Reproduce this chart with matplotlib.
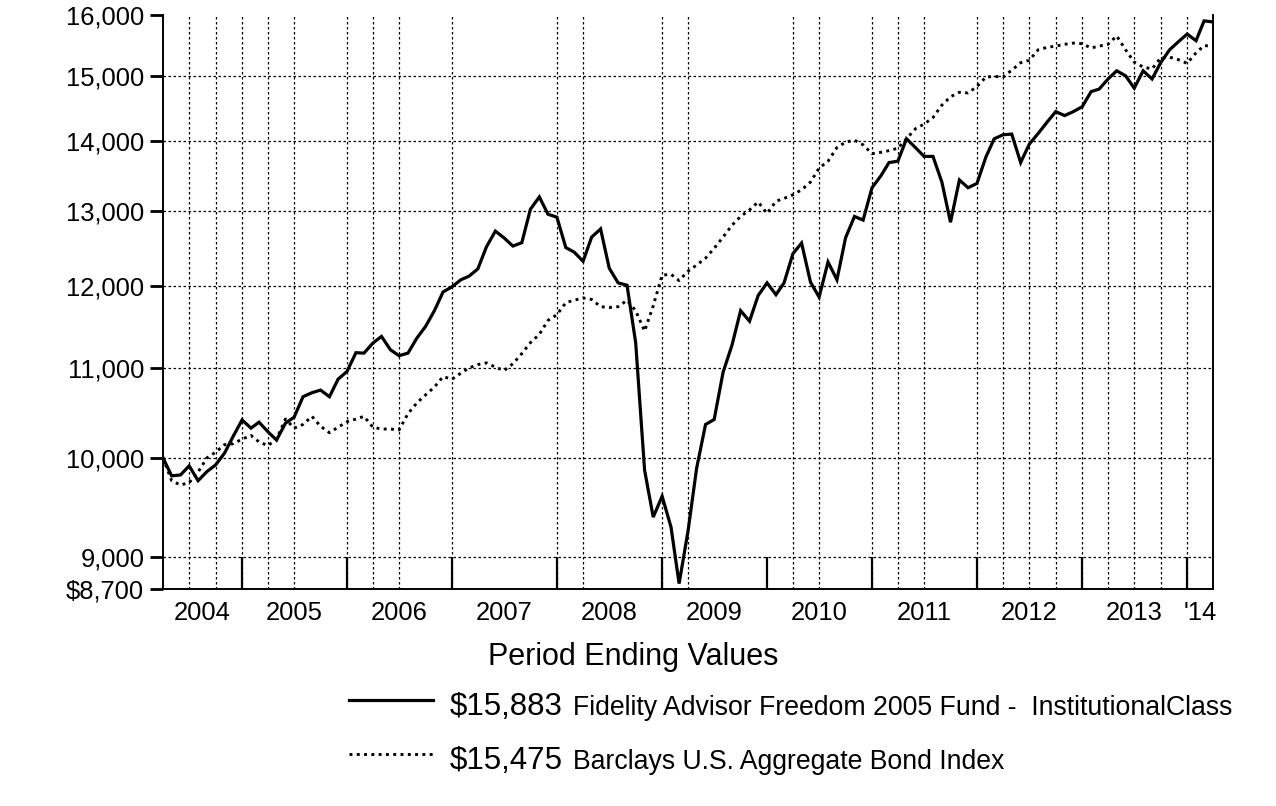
import matplotlib
matplotlib.use("Agg")
import matplotlib.pyplot as plt
import matplotlib.dates as mdates
import pandas as pd
from matplotlib.ticker import FixedLocator, FixedFormatter, NullFormatter

plt.rcParams["font.family"] = ["Liberation Sans", "DejaVu Sans"]

# monthly period ending values, Mar 2004 .. Mar 2014
months = pd.date_range("2004-04-01", periods=121, freq="MS")

fund = [
    10000, 9810, 9820, 9915, 9760, 9855, 9925, 10050, 10230, 10410,
    10320, 10385, 10280, 10190, 10375, 10440, 10670, 10715, 10745, 10670,
    10870, 10960, 11180, 11175, 11295, 11375, 11215, 11145, 11175, 11355,
    11495, 11690, 11925, 11990, 12080, 12125, 12220, 12510, 12720, 12630,
    12520, 12565, 13020, 13190, 12950, 12910, 12500, 12440, 12320, 12640,
    12750, 12230, 12040, 12010, 11300, 9870, 9390, 9600, 9290, 8750,
    9250, 9890, 10360, 10415, 10950, 11270, 11690, 11560, 11880, 12040,
    11890, 12040, 12420, 12560, 12050, 11860, 12310, 12080, 12630, 12920,
    12870, 13320, 13490, 13680, 13700, 14030, 13900, 13770, 13770, 13400,
    12840, 13430, 13320, 13380, 13760, 14030, 14090, 14100, 13680, 13950,
    14110, 14280, 14440, 14380, 14440, 14515, 14750, 14790, 14950, 15080,
    15000, 14805, 15080, 14950, 15210, 15420, 15550, 15680, 15570, 15900,
    15883,
]

bond = [
    10000, 9760, 9715, 9740, 9850, 10000, 10060, 10140, 10150, 10200,
    10240, 10170, 10130, 10200, 10420, 10320, 10360, 10450, 10340, 10270,
    10330, 10390, 10420, 10450, 10330, 10310, 10310, 10300, 10480, 10600,
    10690, 10780, 10900, 10870, 10940, 11000, 11040, 11060, 11010, 10970,
    11050, 11170, 11300, 11400, 11570, 11640, 11790, 11820, 11850, 11830,
    11740, 11730, 11740, 11820, 11690, 11440, 11750, 12140, 12150, 12070,
    12190, 12270, 12360, 12490, 12640, 12800, 12920, 13010, 13120, 12960,
    13130, 13170, 13220, 13290, 13400, 13600, 13700, 13900, 13980, 14010,
    13940, 13810, 13830, 13855, 13890, 14030, 14180, 14250, 14350, 14540,
    14670, 14740, 14730, 14830, 14980, 14990, 14980, 15090, 15210, 15250,
    15420, 15460, 15480, 15510, 15530, 15520, 15450, 15480, 15510, 15650,
    15420, 15220, 15140, 15110, 15290, 15300, 15260, 15200, 15370, 15490,
    15475,
]

y_ticks = [8700, 9000, 10000, 11000, 12000, 13000, 14000, 15000, 16000]
y_labels = ["$8,700", "9,000", "10,000", "11,000", "12,000", "13,000", "14,000", "15,000", "16,000"]
year_bounds = ["2005-01-01", "2006-01-01", "2007-01-01", "2008-01-01", "2009-01-01",
               "2010-01-01", "2011-01-01", "2012-01-01", "2013-01-01", "2014-01-01"]
year_labels = ["2004", "2005", "2006", "2007", "2008", "2009", "2010", "2011", "2012", "2013", "'14"]
# quarter-end grid lines as drawn in the source
grid_dates = ["2004-07-01", "2004-10-01", "2005-01-01", "2005-04-01", "2005-07-01",
              "2006-01-01", "2006-04-01", "2006-07-01", "2007-01-01", "2008-01-01",
              "2008-04-01", "2009-01-01", "2009-04-01", "2010-04-01", "2010-07-01",
              "2011-01-01", "2011-04-01", "2011-07-01", "2012-01-01", "2012-04-01",
              "2012-07-01", "2012-10-01", "2013-01-01", "2013-04-01", "2013-07-01",
              "2013-10-01", "2014-01-01"]

fund_value = "$15,883"
fund_name = "Fidelity Advisor Freedom 2005 Fund -  InstitutionalClass"
bond_value = "$15,475"
bond_name = "Barclays U.S. Aggregate Bond Index"

fig = plt.figure(figsize=(12.76, 8.06), dpi=100)
ax = fig.add_axes([163 / 1276, 1 - 589 / 806, 1050 / 1276, 574 / 806])

x = mdates.date2num(months)
ax.plot(x, fund, color="black", linewidth=2.3, solid_joinstyle="miter", zorder=4)
ax.plot(x, bond, color="black", linewidth=2.1, linestyle=(0, (1.0, 1.5)), zorder=3)

ax.set_yscale("log")
ax.set_ylim(8700, 16000)
x0, x1 = x[0], x[-1]
ax.set_xlim(x0, x1)

ax.yaxis.set_major_locator(FixedLocator(y_ticks))
ax.yaxis.set_major_formatter(FixedFormatter(y_labels))
ax.yaxis.set_minor_locator(FixedLocator([]))
ax.yaxis.set_minor_formatter(NullFormatter())
ax.tick_params(axis="y", which="major", direction="out", length=9.5, width=2.0,
               labelsize=18.4, pad=4)

# year boundaries as long inward ticks, year names centred in between
bounds = mdates.date2num(pd.to_datetime(year_bounds))
edges = [x0] + list(bounds) + [x1]
mids = [(a + b) / 2 for a, b in zip(edges[:-1], edges[1:])]
ax.xaxis.set_major_locator(FixedLocator(bounds))
ax.xaxis.set_major_formatter(NullFormatter())
ax.xaxis.set_minor_locator(FixedLocator(mids))
ax.xaxis.set_minor_formatter(FixedFormatter(year_labels))
ax.tick_params(axis="x", which="major", direction="in", length=23, width=1.6)
ax.tick_params(axis="x", which="minor", length=0, labelsize=18.4, pad=9)

for d in mdates.date2num(pd.to_datetime(grid_dates)):
    ax.axvline(d, color="black", linewidth=0.9, linestyle=(0, (2, 2)), zorder=1)
for v in y_ticks[1:-1]:
    ax.axhline(v, color="black", linewidth=0.9, linestyle=(0, (2, 2)), zorder=1)

ax.spines["top"].set_visible(False)
for side in ("left", "bottom", "right"):
    ax.spines[side].set_linewidth(1.4)

fig.text(633 / 1276, 1 - 657 / 806, "Period Ending Values", fontsize=22,
         ha="center", va="center")

# legend rows drawn by hand: sample line, big value, smaller name
rows = [(700, fund_value, fund_name, "-"), (754, bond_value, bond_name, (0, (1.0, 1.5)))]
for y_px, value, name, style in rows:
    yf = 1 - y_px / 806
    fig.add_artist(plt.Line2D([349 / 1276, 433 / 1276], [yf, yf], color="black",
                              linewidth=2.3 if style == "-" else 2.1, linestyle=style))
    fig.text(450 / 1276, yf - 7 / 806, value, fontsize=22.5, ha="left", va="center")
    fig.text(573 / 1276, yf - 8 / 806, name, fontsize=19.2, ha="left", va="center")

fig.savefig("out.png", dpi=100)
